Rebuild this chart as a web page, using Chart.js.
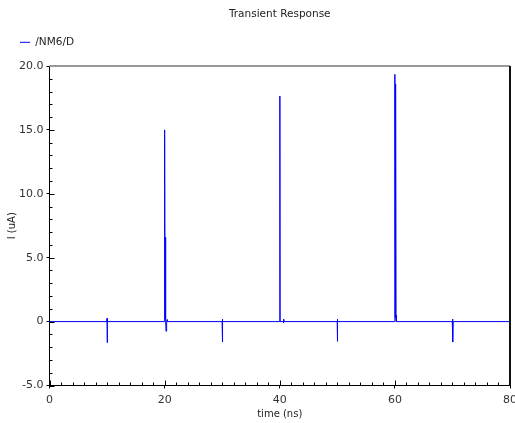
<!DOCTYPE html>
<html>
<head>
<meta charset="utf-8">
<script src="https://cdn.jsdelivr.net/npm/chart.js@4"></script>
<style>
  html, body { margin: 0; padding: 0; background: #fff; }
  #wrap { width: 515px; height: 423px; }
</style>
</head>
<body>
<div id="wrap"><canvas id="tran" width="515" height="423"></canvas></div>
<script>
// drain current of NM6 over the transient run
const seriesName = '/NM6/D';
const timeNs = [
  0,
  9.98, 10.0, 10.03, 10.06,
  19.97, 20.0, 20.08, 20.15, 20.2, 20.24, 20.3, 20.4, 20.45, 20.5,
  29.98, 30.0, 30.03, 30.06, 30.09, 30.12,
  39.98, 40.02, 40.06, 40.6, 40.65, 40.7, 40.78, 40.85,
  49.98, 50.0, 50.03, 50.07,
  59.97, 60.0, 60.06, 60.1, 60.13, 60.16, 60.2, 60.25,
  69.98, 70.0, 70.03, 70.06, 70.09, 70.12,
  80
];
const currentUA = [
  0,
  0, 0.25, -1.65, 0,
  0, 15.0, 0.2, 6.6, 0.1, -0.75, 0, 0, 0.15, 0,
  0, 0.2, -1.6, -0.2, -1.55, 0,
  0, 17.65, 0, 0, -0.1, 0.2, 0.05, 0,
  0, 0.2, -1.55, 0,
  0, 19.35, 0.3, 18.6, 0.4, 18.5, 0.5, 0,
  0, 0.2, -1.6, -0.1, -1.6, 0,
  0
];
const xRange = [0, 80];
const yRange = [-5, 20];
const xMajor = 20, xMinor = 2;
const yMajor = 5, yMinor = 1;

const font = (size) => ({ family: 'DejaVu Sans', size });

// minor/major ticks pointing into the plot, plus the top/right frame
const innerTicks = {
  id: 'innerTicks',
  afterDatasetsDraw(chart) {
    const { ctx, chartArea: a, scales: { x, y } } = chart;
    ctx.save();
    ctx.strokeStyle = '#000';
    ctx.lineWidth = 1;
    ctx.beginPath();
    for (let v = xRange[0]; v <= xRange[1]; v += xMinor) {
      const px = Math.round(x.getPixelForValue(v)) + 0.5;
      const len = v % xMajor === 0 ? 5 : 3;
      ctx.moveTo(px, a.bottom);
      ctx.lineTo(px, a.bottom - len);
    }
    for (let v = yRange[0]; v <= yRange[1]; v += yMinor) {
      const py = Math.round(y.getPixelForValue(v)) + 0.5;
      const len = v % yMajor === 0 ? 5 : 3;
      ctx.moveTo(a.left, py);
      ctx.lineTo(a.left + len, py);
    }
    ctx.stroke();

    ctx.strokeStyle = '#999';
    ctx.lineWidth = 2;
    ctx.beginPath();
    ctx.moveTo(a.left, Math.round(a.top));
    ctx.lineTo(a.right, Math.round(a.top));
    ctx.stroke();

    ctx.strokeStyle = '#111';
    ctx.beginPath();
    ctx.moveTo(Math.round(a.right), a.top);
    ctx.lineTo(Math.round(a.right), a.bottom);
    ctx.stroke();
    ctx.restore();
  }
};

new Chart(document.getElementById('tran'), {
  type: 'scatter',
  data: {
    datasets: [{
      label: seriesName,
      data: timeNs.map((t, i) => ({ x: t, y: currentUA[i] })),
      showLine: true,
      borderColor: '#0000ff',
      backgroundColor: '#0000ff',
      borderWidth: 1,
      pointRadius: 0,
      tension: 0
    }]
  },
  options: {
    responsive: false,
    animation: false,
    devicePixelRatio: 1,
    layout: { padding: 0 },
    plugins: {
      title: {
        display: true,
        text: 'Transient Response',
        fullSize: false,
        color: '#222',
        font: { ...font(10.5), weight: 'normal' },
        padding: { top: 7.5, bottom: -3.05 }
      },
      // empty spacer between legend and plot
      subtitle: {
        display: true,
        text: '',
        weight: 500,
        font: { size: 1 },
        padding: { top: 0, bottom: 7.25 }
      },
      legend: {
        display: true,
        align: 'start',
        labels: {
          usePointStyle: true,
          pointStyle: 'line',
          pointStyleWidth: 10,
          padding: 20,
          color: '#222',
          font: font(10.5)
        }
      },
      tooltip: { enabled: false }
    },
    scales: {
      x: {
        type: 'linear',
        min: xRange[0],
        max: xRange[1],
        ticks: { stepSize: xMajor, color: '#333', font: font(11), padding: 5, maxRotation: 0 },
        grid: { drawOnChartArea: false, tickLength: 3, color: '#000' },
        border: { color: '#000', width: 1 },
        title: { display: true, text: 'time (ns)', color: '#222', font: font(10), padding: { top: 0, bottom: 3 } },
        afterFit(s) { s.height = 37.5; s.paddingRight = 5; }
      },
      y: {
        type: 'linear',
        min: yRange[0],
        max: yRange[1],
        ticks: {
          stepSize: yMajor,
          color: '#333',
          font: font(11),
          padding: 3,
          callback: (v) => v === 0 ? '0' : v.toFixed(1)
        },
        grid: { drawOnChartArea: false, tickLength: 3, color: '#000' },
        border: { color: '#000', width: 1 },
        title: { display: true, text: 'I (uA)', color: '#222', font: font(10), padding: { top: 6, bottom: 0 } },
        afterFit(s) { s.width = 49.5; }
      }
    }
  },
  plugins: [innerTicks]
});
</script>
</body>
</html>
